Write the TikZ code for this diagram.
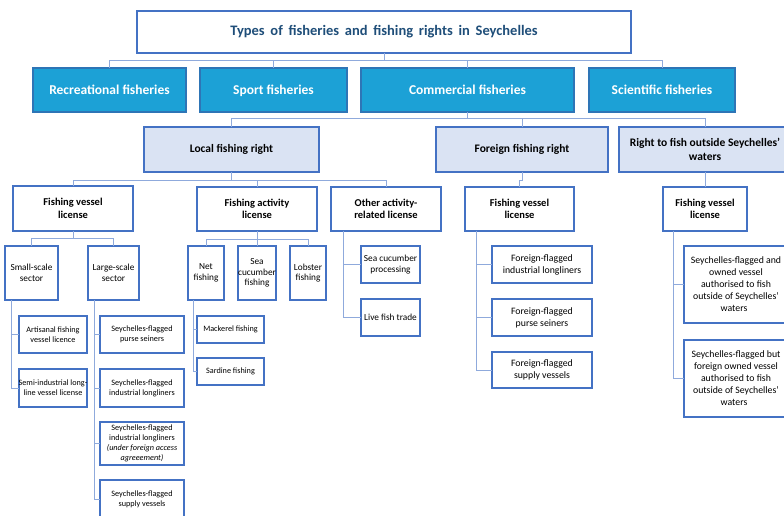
\documentclass[tikz,border=0pt]{standalone}
\usepackage{fontspec}
\setmainfont{Carlito}
\definecolor{bordblue}{HTML}{4472C4}
\definecolor{titleblue}{HTML}{1F4E79}
\definecolor{cyanfill}{HTML}{1CA1D6}
\definecolor{cyanborder}{HTML}{2E75B6}
\definecolor{lightfill}{HTML}{DAE3F3}
\definecolor{connblue}{HTML}{8FAADC}
\newcommand\bx[7]{\node[#1, anchor=north west, minimum width=(#5-#3)*1pt, minimum height=(#6-#4)*1pt] (#2) at (#3,#4) {#7};}
\newcommand\mb[1]{\makebox[50pt]{#1}}
\begin{document}
\begin{tikzpicture}[x=1pt,y=-1pt,
  box/.style={draw=bordblue, line width=1.3pt, fill=white, align=center, inner sep=0pt, outer sep=0pt},
  topbox/.style={box, font=\bfseries\fontsize{14.5}{16}\selectfont, text=titleblue},
  catbox/.style={box, fill=cyanfill, draw=cyanborder, text=white, text depth=0pt, font=\bfseries\fontsize{13.5}{15}\selectfont},
  rightsbox/.style={box, fill=lightfill, font=\bfseries\fontsize{11.5}{14.5}\selectfont},
  licbox/.style={box, font=\bfseries\fontsize{10.5}{12.5}\selectfont},
  subbox/.style={box, line width=1.1pt, font=\fontsize{9.3}{10.5}\selectfont},
  actbox/.style={box, line width=1.1pt, font=\fontsize{9.3}{11}\selectfont},
  leafbox/.style={box, line width=1.1pt, font=\fontsize{8.2}{10}\selectfont},
  leafbbox/.style={box, line width=1.1pt, font=\fontsize{9.8}{12}\selectfont},
  conn/.style={draw=connblue, line width=1pt}]
\useasboundingbox (0,0) rectangle (784,516);
\clip (0,0) rectangle (784,516);
\fill[white] (0,0) rectangle (784,516);

% boxes
\bx{topbox}{title}{137}{11}{631}{53}{Types\, of\, fisheries\, and\, fishing\, rights\, in\, Seychelles}
\bx{catbox}{rec}{33}{68}{186}{112}{Recreational fisheries}
\bx{catbox}{sport}{200}{68}{347}{112}{Sport fisheries}
\bx{catbox}{comm}{361}{68}{574}{112}{Commercial fisheries}
\bx{catbox}{sci}{589}{68}{735}{112}{Scientific fisheries}
\bx{rightsbox}{local}{144}{127}{319}{172}{Local fishing right}
\bx{rightsbox}{foreign}{436}{127}{608}{172}{Foreign fishing right}
\bx{rightsbox}{outside}{619}{127}{791}{172}{Right to fish outside Seychelles'\\waters}
\bx{licbox}{fvl}{13}{186}{133}{231}{Fishing vessel\\license}
\bx{licbox}{fal}{197}{187}{317}{231}{Fishing activity\\license}
\bx{licbox}{oal}{331}{187}{441}{231}{Other activity-\\related license}
\bx{licbox}{ffvl}{465}{187}{574}{231}{Fishing vessel\\license}
\bx{licbox}{ofvl}{663}{187}{747}{231}{Fishing vessel\\license}
\bx{subbox}{small}{5}{246}{58}{300}{Small-scale\\sector}
\bx{subbox}{large}{88}{246}{139}{300}{Large-scale\\sector}
\bx{leafbox}{art}{19}{316}{87}{353}{Artisanal fishing\\vessel licence}
\bx{leafbox}{semi}{19}{369}{87}{407}{\mb{Semi-industrial long-}\\\mb{line vessel license}}
\bx{leafbox}{la}{100}{316}{184}{353}{Seychelles-flagged\\purse seiners}
\bx{leafbox}{lb}{100}{369}{184}{407}{Seychelles-flagged\\industrial longliners}
\bx{leafbox}{lc}{100}{422}{184}{465}{Seychelles-flagged\\industrial longliners\\\textit{(under foreign access}\\\textit{agreeement)}}
\bx{leafbox}{ld}{100}{480}{184}{518}{Seychelles-flagged\\supply vessels}
\bx{subbox}{net}{188}{246}{224}{300}{Net\\fishing}
\bx{subbox}{seac}{238}{246}{276}{300}{Sea\\\makebox[30pt]{cucumber}\\fishing}
\bx{subbox}{lob}{290}{246}{326}{300}{Lobster\\fishing}
\bx{leafbox}{mack}{197}{316}{264}{343}{Mackerel fishing}
\bx{leafbox}{sard}{197}{358}{264}{385}{Sardine fishing}
\bx{actbox}{scp}{361}{246}{420}{283}{Sea cucumber\\processing}
\bx{actbox}{live}{361}{299}{420}{336}{Live fish trade}
\bx{leafbbox}{ffa}{492}{246}{592}{283}{Foreign-flagged\\industrial longliners}
\bx{leafbbox}{ffb}{492}{299}{592}{336}{Foreign-flagged\\purse seiners}
\bx{leafbbox}{ffc}{492}{352}{592}{388}{Foreign-flagged\\supply vessels}
\node[leafbbox, anchor=north west, minimum width=104pt, minimum height=77pt] (oa) at (684,246) {Seychelles-flagged and\\owned vessel\\authorised to fish\\outside of Seychelles'\\waters\hspace*{4pt}};
\node[leafbbox, anchor=north west, minimum width=104pt, minimum height=77pt] (ob) at (684,340) {Seychelles-flagged but\\foreign owned vessel\\authorised to fish\\outside of Seychelles'\\waters\hspace*{4pt}};

% bus coordinates
\coordinate (b1) at (0,61);
\coordinate (b2) at (0,119);
\coordinate (b3) at (0,180);
\coordinate (b4) at (0,238);
\coordinate (b5) at (0,239);

% title -> categories
\draw[conn] (title.south) -- (title.south |- b1);
\draw[conn] (rec.north) |- (sci.north |- b1) -- (sci.north);
\draw[conn] (sport.north) -- (sport.north |- b1);
\draw[conn] (comm.north) -- (comm.north |- b1);
% commercial -> rights
\draw[conn] (comm.south) -- (comm.south |- b2);
\draw[conn] (local.north) |- (outside.north |- b2) -- (outside.north);
\draw[conn] (foreign.north) -- (foreign.north |- b2);
% local -> licenses
\draw[conn] (local.south) -- (local.south |- b3);
\draw[conn] (fvl.north) |- (oal.north |- b3) -- (oal.north);
\draw[conn] (fal.north) -- (fal.north |- b3);
% foreign / outside -> license
\draw[conn] (foreign.south) -- (foreign.south |- b3) -| (ffvl.north);
\draw[conn] (outside.south) -- (ofvl.north);
% fishing vessel license -> sectors
\draw[conn] (fvl.south) -- (fvl.south |- b4);
\draw[conn] (small.north) |- (large.north |- b4) -- (large.north);
% fishing activity license -> activities
\draw[conn] (fal.south) -- (fal.south |- b5);
\draw[conn] (net.north) |- (lob.north |- b5) -- (lob.north);
\draw[conn] (seac.north) -- (seac.north |- b5);
% spines
\coordinate (s1) at (11,300);
\draw[conn] (s1) |- (semi.west);
\draw[conn] (s1 |- art.west) -- (art.west);
\coordinate (s2) at (94,300);
\draw[conn] (s2) |- (ld.west);
\draw[conn] (s2 |- la.west) -- (la.west);
\draw[conn] (s2 |- lb.west) -- (lb.west);
\draw[conn] (s2 |- lc.west) -- (lc.west);
\coordinate (s3) at (193,300);
\draw[conn] (s3) |- (sard.west);
\draw[conn] (s3 |- mack.west) -- (mack.west);
\coordinate (s4) at (343,231);
\draw[conn] (s4) |- (live.west);
\draw[conn] (s4 |- scp.west) -- (scp.west);
\coordinate (s5) at (476,231);
\draw[conn] (s5) |- (ffc.west);
\draw[conn] (s5 |- ffa.west) -- (ffa.west);
\draw[conn] (s5 |- ffb.west) -- (ffb.west);
\coordinate (s6) at (673,231);
\draw[conn] (s6) |- (ob.west);
\draw[conn] (s6 |- oa.west) -- (oa.west);
\end{tikzpicture}
\end{document}
